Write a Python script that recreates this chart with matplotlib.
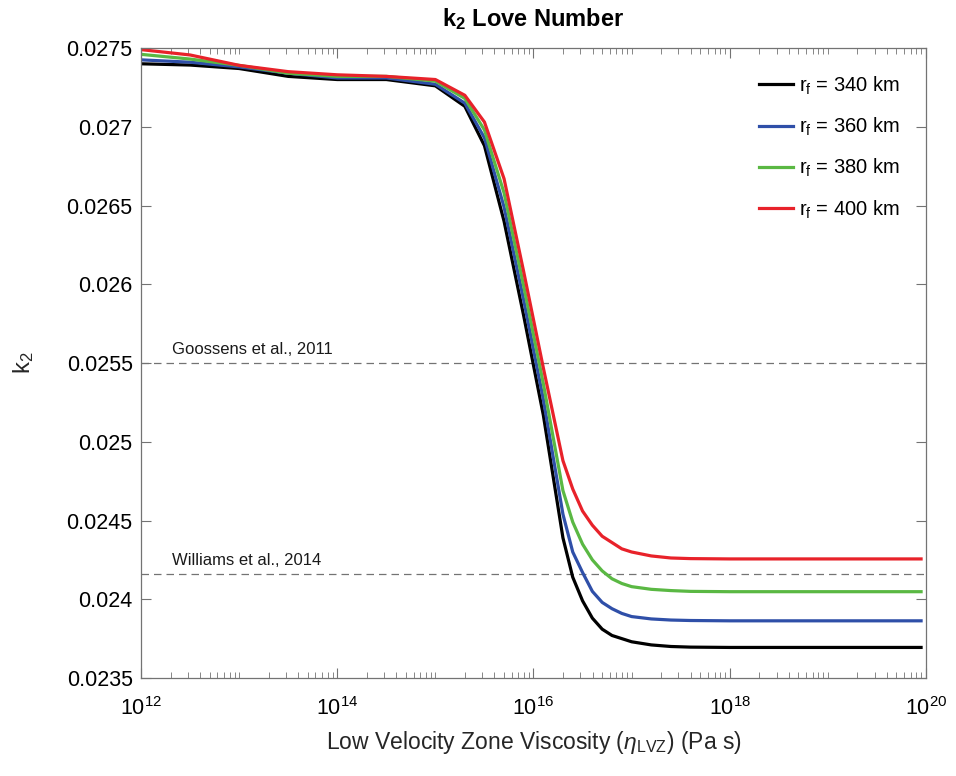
import matplotlib
matplotlib.use('Agg')
import matplotlib.pyplot as plt
import numpy as np
from matplotlib.ticker import LogLocator, NullFormatter, FixedLocator

plt.rcParams['font.family'] = ['Liberation Sans', 'DejaVu Sans']
plt.rcParams['mathtext.fontset'] = 'custom'
plt.rcParams['mathtext.rm'] = 'Liberation Sans'
plt.rcParams['mathtext.it'] = 'Liberation Sans:italic'
plt.rcParams['mathtext.bf'] = 'Liberation Sans:bold'

# log10 of LVZ viscosity (Pa s)
log_eta = [12.0, 12.5, 13.0, 13.5, 14.0, 14.5, 15.0, 15.3, 15.5, 15.7, 15.9,
           16.1, 16.3, 16.4, 16.5, 16.6, 16.7, 16.8, 16.9, 17.0, 17.2, 17.4,
           17.6, 18.0, 18.5, 19.0, 19.5, 19.95]

# k2 for each fluid core radius
k2_340 = [0.02740, 0.027392, 0.02737, 0.02732, 0.02730, 0.02730, 0.02726,
          0.02713, 0.02688, 0.02640, 0.02580, 0.02517, 0.02439, 0.02414,
          0.02399, 0.02388, 0.02381, 0.02377, 0.02375, 0.02373, 0.02371,
          0.023700, 0.023696, 0.023694, 0.023694, 0.023694, 0.023694, 0.023694]
k2_360 = [0.027425, 0.02741, 0.02738, 0.02734, 0.02731, 0.02731, 0.02727,
          0.02715, 0.02693, 0.02649, 0.02590, 0.02527, 0.02454, 0.02430,
          0.02417, 0.02405, 0.02398, 0.02394, 0.02391, 0.02389, 0.023875,
          0.023868, 0.023865, 0.023863, 0.023863, 0.023863, 0.023863, 0.023863]
k2_380 = [0.02746, 0.02743, 0.02739, 0.02734, 0.02732, 0.02732, 0.02729,
          0.02718, 0.02698, 0.02658, 0.02599, 0.02537, 0.02469, 0.02449,
          0.02435, 0.02425, 0.02418, 0.02413, 0.02410, 0.02408, 0.024063,
          0.024055, 0.024050, 0.024048, 0.024048, 0.024048, 0.024048, 0.024048]
k2_400 = [0.02749, 0.027456, 0.02739, 0.02735, 0.02733, 0.02732, 0.02730,
          0.02720, 0.02703, 0.02667, 0.02608, 0.02547, 0.02488, 0.02470,
          0.02456, 0.02447, 0.02440, 0.02436, 0.02432, 0.02430, 0.024275,
          0.024262, 0.024258, 0.024256, 0.024256, 0.024256, 0.024256, 0.024256]

radii = [340, 360, 380, 400]
colors = ['#000000', '#2f4fa8', '#5ab843', '#e8222a']

# observed k2 values
obs_values = [0.0255, 0.02416]
obs_labels = ['Goossens et al., 2011', 'Williams et al., 2014']

fig = plt.figure(figsize=(9.56, 7.76), dpi=100)
ax = fig.add_axes([0.1475, 0.1263, 0.8211, 0.8118])

eta = 10.0 ** np.array(log_eta)
for r, k2, c in zip(radii, [k2_340, k2_360, k2_380, k2_400], colors):
    ax.plot(eta, k2, color=c, lw=2.3, label=r'r$_\mathrm{f}$ = %d km' % r)

for v, lab in zip(obs_values, obs_labels):
    ax.axhline(v, color='0.45', lw=0.9, ls=(0, (6, 4)), zorder=0)
    ax.text(10 ** 12.32, v + 0.00004, lab, fontsize=12, color='0.1', va='bottom')

ax.set_xscale('log')
ax.set_xlim(1e12, 1e20)
ax.set_ylim(0.0235, 0.0275)
ax.xaxis.set_major_locator(FixedLocator([1e12, 1e14, 1e16, 1e18, 1e20]))
ax.xaxis.set_minor_locator(LogLocator(base=10, subs=np.arange(1, 10), numticks=20))
ax.xaxis.set_minor_formatter(NullFormatter())
ax.set_yticks(np.arange(0.0235, 0.02751, 0.0005))
ax.set_yticklabels(['0.0235', '0.024', '0.0245', '0.025', '0.0255',
                    '0.026', '0.0265', '0.027', '0.0275'])

ax.tick_params(which='both', direction='in', top=True, right=True,
               color='0.45', labelsize=15.5)
ax.tick_params(axis='y', pad=6)
ax.tick_params(axis='x', pad=14)
ax.tick_params(which='major', length=7)
ax.tick_params(which='minor', length=4)
for s in ax.spines.values():
    s.set_color('0.45')
    s.set_linewidth(0.9)

ax.set_xlabel(r'Low Velocity Zone Viscosity ($\eta_\mathrm{LVZ}$) (Pa s)',
              fontsize=16.5, color='0.15', labelpad=6)
ax.set_ylabel(r'k$_2$', fontsize=17, color='0.15', labelpad=22)
ax.set_title(r'$\mathbf{k_2}$ Love Number', fontsize=17, fontweight='bold', pad=16)

ax.legend(loc='upper right', frameon=False, fontsize=14.5, handlelength=1.7,
          handletextpad=0.3, labelspacing=0.95, borderaxespad=0.9)

fig.savefig('out.png', dpi=100)
